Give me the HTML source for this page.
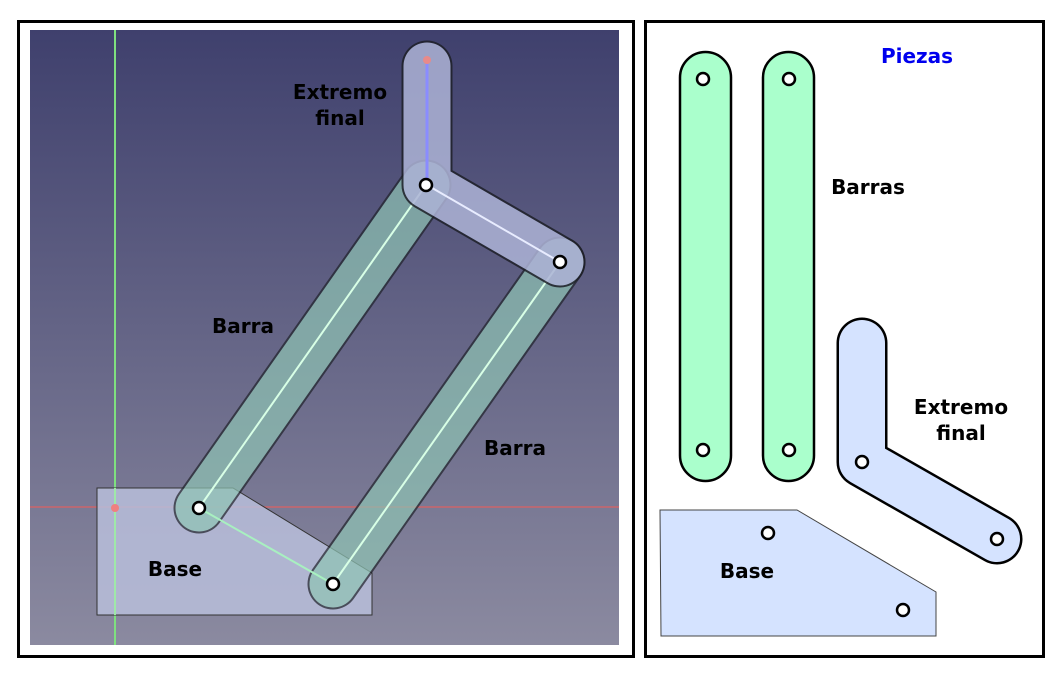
<!DOCTYPE html>
<html><head><meta charset="utf-8"><style>
html,body{margin:0;padding:0;background:#fff;width:1060px;height:675px;overflow:hidden}
text{font-family:"DejaVu Sans","Liberation Sans",sans-serif;font-weight:bold;font-size:20px}
</style></head><body>
<svg width="1060" height="675" viewBox="0 0 1060 675">
<defs>
<linearGradient id="bg" x1="0" y1="0" x2="0" y2="1">
<stop offset="0" stop-color="#3f406d"/><stop offset="1" stop-color="#8b8aa0"/>
</linearGradient>
</defs>
<g>
<rect x="18.5" y="21.5" width="615" height="635" fill="#fff" stroke="#000" stroke-width="3"/>
<rect x="30" y="30" width="589" height="615" fill="url(#bg)"/>
<line x1="115" y1="30" x2="115" y2="645" stroke="#7fe07f" stroke-width="2"/>
<line x1="30" y1="507" x2="619" y2="507" stroke="#e06060" stroke-width="1.5" opacity="0.8"/>
<g>
<polygon points="97,488 233,488 372,573 372,615 97,615" fill="#b8bedb" fill-opacity="0.85" stroke="#333" stroke-width="1"/>
<line x1="115" y1="488" x2="115" y2="615" stroke="#9fe8a8" stroke-width="2"/>
<circle cx="115" cy="508" r="4" fill="#f07f7f"/>
</g>
<g opacity="0.7">
<line x1="199" y1="508" x2="426" y2="185" stroke="#1e2128" stroke-width="51" stroke-linecap="round"/>
<line x1="199" y1="508" x2="426" y2="185" stroke="#8fc4b4" stroke-width="47" stroke-linecap="round"/>
</g>
<g opacity="0.7">
<line x1="333" y1="584" x2="560" y2="262" stroke="#1e2128" stroke-width="51" stroke-linecap="round"/>
<line x1="333" y1="584" x2="560" y2="262" stroke="#8fc4b4" stroke-width="47" stroke-linecap="round"/>
</g>
<line x1="199" y1="508" x2="426" y2="185" stroke="#d8ffe6" stroke-width="2"/>
<line x1="333" y1="584" x2="560" y2="262" stroke="#d8ffe6" stroke-width="2"/>
<line x1="199" y1="508" x2="333" y2="584" stroke="#a8f0c0" stroke-width="2"/>
<g>
<g opacity="0.85">
<polyline points="427,66 427,185 560,262" fill="none" stroke="#1e2028" stroke-width="51" stroke-linecap="round" stroke-linejoin="round"/>
<polyline points="427,66 427,185 560,262" fill="none" stroke="#adb3d6" stroke-width="47" stroke-linecap="round" stroke-linejoin="round"/>
</g>
<line x1="427" y1="60" x2="427" y2="185" stroke="#8a8cff" stroke-width="3"/>
<line x1="427" y1="185" x2="560" y2="262" stroke="#e8ecff" stroke-width="2"/>
<circle cx="427" cy="60" r="4" fill="#e88a8a"/>
</g>
<g fill="#fff" stroke="#000" stroke-width="2.5">
<circle cx="426" cy="185" r="6"/><circle cx="560" cy="262" r="6"/>
<circle cx="199" cy="508" r="6"/><circle cx="333" cy="584" r="6"/>
</g>
<text x="340" y="99" text-anchor="middle"><tspan x="340">Extremo</tspan><tspan x="340" dy="26">final</tspan></text>
<text x="243" y="333" text-anchor="middle">Barra</text>
<text x="515" y="455" text-anchor="middle">Barra</text>
<text x="175" y="576" text-anchor="middle">Base</text>
</g>
<g>
<rect x="645.5" y="21.5" width="398" height="635" fill="#fff" stroke="#000" stroke-width="3"/>
<text x="917" y="63" text-anchor="middle" fill="#0000ee">Piezas</text>
<rect x="680" y="52" width="51" height="429" rx="25.5" fill="#aaffcc" stroke="#000" stroke-width="2.5"/>
<rect x="763" y="52" width="51" height="429" rx="25.5" fill="#aaffcc" stroke="#000" stroke-width="2.5"/>
<text x="868" y="194" text-anchor="middle">Barras</text>
<g>
<polyline points="862,343 862,462 997,539" fill="none" stroke="#000" stroke-width="51" stroke-linecap="round" stroke-linejoin="round"/>
<polyline points="862,343 862,462 997,539" fill="none" stroke="#d5e3ff" stroke-width="46" stroke-linecap="round" stroke-linejoin="round"/>
</g>
<text x="961" y="414" text-anchor="middle"><tspan x="961">Extremo</tspan><tspan x="961" dy="26">final</tspan></text>
<polygon points="660,510 797,510 936,592 936,636 661,636" fill="#d5e3ff" stroke="#444" stroke-width="1"/>
<text x="747" y="578" text-anchor="middle">Base</text>
<g fill="#fff" stroke="#000" stroke-width="2.5">
<circle cx="703" cy="79" r="6"/><circle cx="703" cy="450" r="6"/>
<circle cx="789" cy="79" r="6"/><circle cx="789" cy="450" r="6"/>
<circle cx="862" cy="462" r="6"/><circle cx="997" cy="539" r="6"/>
<circle cx="768" cy="533" r="6"/><circle cx="903" cy="610" r="6"/>
</g>
</g>
</svg>
</body></html>
